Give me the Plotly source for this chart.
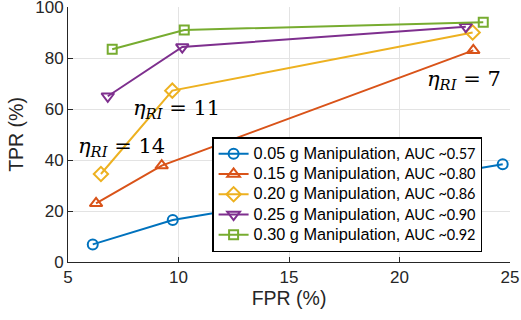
import plotly.graph_objects as go

names = ["0.05 g Manipulation", "0.15 g Manipulation", "0.20 g Manipulation",
         "0.25 g Manipulation", "0.30 g Manipulation"]
aucs = ["0.57", "0.80", "0.86", "0.90", "0.92"]
fpr_005 = [6.12, 9.74, 24.67]
tpr_005 = [6.9, 16.5, 38.3]
fpr_015 = [6.27, 9.24, 23.34]
tpr_015 = [23.0, 37.8, 83.0]
fpr_020 = [6.49, 9.72, 23.31]
tpr_020 = [34.5, 67.2, 90.0]
fpr_025 = [6.80, 10.17, 23.0]
tpr_025 = [65.0, 84.3, 92.3]
fpr_030 = [7.0, 10.26, 23.79]
tpr_030 = [83.4, 91.0, 94.0]
x_ticks = [5, 10, 15, 20, 25]
y_ticks = [0, 20, 40, 60, 80, 100]

fprs = [fpr_005, fpr_015, fpr_020, fpr_025, fpr_030]
tprs = [tpr_005, tpr_015, tpr_020, tpr_025, tpr_030]
colors = ["#0072BD", "#D95319", "#EDB120", "#7E2F8E", "#77AC30"]
symbols = ["circle-open", "triangle-up-open", "diamond-open", "triangle-down-open", "square-open"]
sizes = [10, 11, 11, 11, 9]

fig = go.Figure()
for n, a, x, y, c, s, sz in zip(names, aucs, fprs, tprs, colors, symbols, sizes):
    fig.add_trace(go.Scatter(
        x=x, y=y, mode="lines+markers",
        name=(f"<span style='font-size:16.3px'>{n}, </span>"
              f"<span style='font-family:Lato; font-size:14.5px'>AUC ~{a}</span>"),
        line=dict(color=c, width=2),
        marker=dict(symbol=s, size=sz, color=c, line=dict(color=c, width=2)),
    ))

ann_font = dict(family="DejaVu Serif, Liberation Serif, serif", size=21, color="black")
eta = "<i>η</i><sub><i>RI</i></sub> = "
for txt, xx, yy in [("11", 7.83, 60.0), ("14", 5.35, 45.0), ("7", 21.15, 71.5)]:
    fig.add_annotation(x=xx, y=yy, xref="x", yref="y", text=eta + txt, showarrow=False,
                       xanchor="left", yanchor="middle", font=ann_font)

axis_common = dict(showgrid=True, gridcolor="#E3E3E3", gridwidth=1, zeroline=False,
                   showline=True, linecolor="#262626", linewidth=1,
                   ticks="inside", ticklen=5, tickcolor="#262626",
                   automargin=False, ticklabeloverflow="allow",
                   tickfont=dict(size=17))

fig.update_layout(
    width=521, height=320,
    margin=dict(l=68, r=11, t=7, b=58),
    paper_bgcolor="white", plot_bgcolor="white",
    font=dict(family="Liberation Sans, Arial, sans-serif", size=17, color="#262626"),
    showlegend=True,
    legend=dict(x=0.326, y=0.49, xanchor="left", yanchor="top",
                bgcolor="white", bordercolor="black", borderwidth=1.5,
                font=dict(size=13.3, color="black"), itemwidth=30,
                tracegroupgap=0),
    xaxis=dict(range=[5, 25], tickvals=x_ticks, **axis_common,
               title=dict(text="FPR (%)", font=dict(size=19.5), standoff=1)),
    yaxis=dict(range=[0, 100], tickvals=y_ticks, **axis_common,
               title=dict(text="TPR (%)", font=dict(size=19.5), standoff=6)),
)
fig.write_html("out.html", config={"displayModeBar": False},
               post_script="document.body.style.margin='0';document.body.style.padding='0';")
